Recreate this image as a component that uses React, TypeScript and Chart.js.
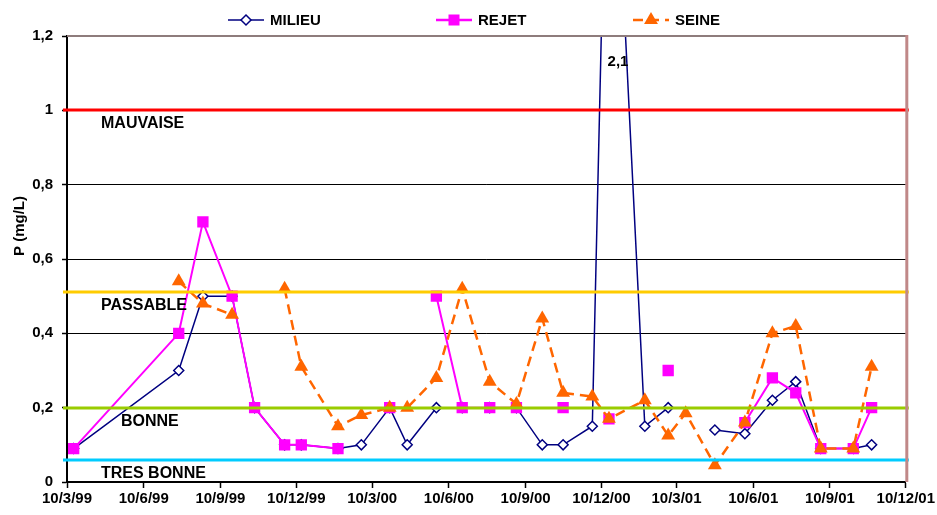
import { useEffect, useRef } from "react";
import { Chart, registerables } from "chart.js";

Chart.register(...registerables);

// ---------- DATA ----------
const BASE_DATE = "1999-03-10";
const END_DATE = "2001-12-10";

const sampleDates = [
  "1999-03-18", "1999-07-22", "1999-08-20", "1999-09-24", "1999-10-21",
  "1999-11-26", "1999-12-16", "2000-01-29", "2000-02-26", "2000-03-31",
  "2000-04-21", "2000-05-26", "2000-06-26", "2000-07-29", "2000-08-30",
  "2000-09-30", "2000-10-25", "2000-11-29", "2000-12-19", "2001-01-31",
  "2001-02-28", "2001-03-21", "2001-04-25", "2001-05-31", "2001-07-03",
  "2001-07-31", "2001-08-30", "2001-10-08", "2001-10-30",
];

const milieu = [
  0.09, 0.3, 0.5, 0.5, 0.2,
  0.1, 0.1, 0.09, 0.1, 0.2,
  0.1, 0.2, 0.2, 0.2, 0.2,
  0.1, 0.1, 0.15, 2.1, 0.15,
  0.2, null, 0.14, 0.13, 0.22,
  0.27, 0.09, 0.09, 0.1,
];

const rejet = [
  0.09, 0.4, 0.7, 0.5, 0.2,
  0.1, 0.1, 0.09, null, 0.2,
  null, 0.5, 0.2, 0.2, 0.2,
  null, 0.2, null, 0.17, null,
  0.3, null, null, 0.16, 0.28,
  0.24, 0.09, 0.09, 0.2,
];

const seine = [
  null, 0.54, 0.48, 0.45, null,
  0.52, 0.31, 0.15, 0.18, 0.2,
  0.2, 0.28, 0.52, 0.27, 0.21,
  0.44, 0.24, 0.23, 0.17, 0.22,
  0.125, 0.185, 0.045, 0.16, 0.4,
  0.42, 0.09, 0.09, 0.31,
];

const tickDates = [
  "1999-03-10", "1999-06-10", "1999-09-10", "1999-12-10",
  "2000-03-10", "2000-06-10", "2000-09-10", "2000-12-10",
  "2001-03-10", "2001-06-10", "2001-09-10", "2001-12-10",
];

const seriesNames = ["MILIEU", "REJET", "SEINE"];
const thresholdValues = [1, 0.51, 0.2, 0.06];
const thresholdNames = ["MAUVAISE", "PASSABLE", "BONNE", "TRES BONNE"];
const peakLabel = "2,1";
const yTitle = "P (mg/L)";

// ---------- STYLE ----------
const FONT = "'Liberation Sans', Arial, sans-serif";
const seriesColors = ["#000080", "#FF00FF", "#FF6600"];
const thresholdColors = ["#FF0000", "#FFCC00", "#99CC00", "#00CCFF"];
const thresholdLabelX = [101, 101, 121, 101];
const legendCenters = [246, 454, 651];

const dayOf = (iso: string) => {
  const [y, m, d] = iso.split("-").map(Number);
  const [by, bm, bd] = BASE_DATE.split("-").map(Number);
  return (Date.UTC(y, m - 1, d) - Date.UTC(by, bm - 1, bd)) / 86400000;
};
const tickDays = tickDates.map(dayOf);
const tickLabels = tickDates.map((s) => {
  const [y, m, d] = s.split("-").map(Number);
  return `${d}/${m}/${String(y).slice(2)}`;
});
const toPoints = (vals: (number | null)[]) =>
  sampleDates.map((s, i) => ({ x: dayOf(s), y: vals[i] }));

function drawMarker(ctx: CanvasRenderingContext2D, idx: number, x: number, y: number) {
  ctx.save();
  ctx.setLineDash([]);
  ctx.beginPath();
  if (idx === 0) {
    const r = 5;
    ctx.moveTo(x, y - r);
    ctx.lineTo(x + r, y);
    ctx.lineTo(x, y + r);
    ctx.lineTo(x - r, y);
    ctx.closePath();
    ctx.fillStyle = "#fff";
    ctx.fill();
    ctx.lineWidth = 1.5;
    ctx.strokeStyle = seriesColors[0];
    ctx.stroke();
  } else if (idx === 1) {
    ctx.fillStyle = seriesColors[1];
    ctx.fillRect(x - 5.5, y - 5.5, 11, 11);
  } else {
    const r = 8;
    ctx.moveTo(x, y - r);
    ctx.lineTo(x + r * 0.866, y + r * 0.5);
    ctx.lineTo(x - r * 0.866, y + r * 0.5);
    ctx.closePath();
    ctx.fillStyle = seriesColors[2];
    ctx.fill();
  }
  ctx.restore();
}

const overlayPlugin = {
  id: "overlay",
  afterDatasetsDraw(chart: any) {
    const { ctx, chartArea: a, scales } = chart;
    const ys = scales.y;
    ctx.save();
    thresholdValues.forEach((v, i) => {
      const py = Math.round(ys.getPixelForValue(v));
      ctx.beginPath();
      ctx.strokeStyle = thresholdColors[i];
      ctx.lineWidth = 3;
      ctx.moveTo(a.left - 4, py);
      ctx.lineTo(a.right + 3, py);
      ctx.stroke();
      ctx.fillStyle = "#000";
      ctx.font = `bold 16px ${FONT}`;
      ctx.textAlign = "left";
      ctx.textBaseline = "middle";
      ctx.fillText(thresholdNames[i], thresholdLabelX[i], py + 14);
    });
    ctx.restore();
  },
  afterDraw(chart: any) {
    const { ctx, chartArea: a, scales } = chart;
    ctx.save();
    // top & right borders
    ctx.strokeStyle = "#8E7C7C";
    ctx.lineWidth = 2;
    ctx.beginPath();
    ctx.moveTo(a.left, a.top);
    ctx.lineTo(a.right + 2, a.top);
    ctx.stroke();
    ctx.strokeStyle = "#C08888";
    ctx.lineWidth = 3;
    ctx.beginPath();
    ctx.moveTo(a.right + 1, a.top - 1);
    ctx.lineTo(a.right + 1, a.bottom);
    ctx.stroke();

    // peak label
    const peakIdx = milieu.indexOf(2.1);
    const px = scales.x.getPixelForValue(dayOf(sampleDates[peakIdx]));
    ctx.fillStyle = "#000";
    ctx.font = `bold 15px ${FONT}`;
    ctx.textAlign = "center";
    ctx.textBaseline = "middle";
    ctx.fillText(peakLabel, px + 9, a.top + 26);

    // y title
    ctx.save();
    ctx.translate(20, 226);
    ctx.rotate(-Math.PI / 2);
    ctx.font = `bold 15px ${FONT}`;
    ctx.textAlign = "center";
    ctx.textBaseline = "middle";
    ctx.fillText(yTitle, 0, 0);
    ctx.restore();

    // legend
    seriesNames.forEach((name, i) => {
      const cx = legendCenters[i];
      const ly = 20;
      ctx.beginPath();
      ctx.strokeStyle = seriesColors[i];
      ctx.lineWidth = i === 0 ? 1.5 : 2.5;
      ctx.setLineDash(i === 2 ? [10, 6] : []);
      ctx.moveTo(cx - 18, ly);
      ctx.lineTo(cx + 18, ly);
      ctx.stroke();
      ctx.setLineDash([]);
      drawMarker(ctx, i, cx, ly);
      ctx.fillStyle = "#000";
      ctx.font = `bold 15px ${FONT}`;
      ctx.textAlign = "left";
      ctx.textBaseline = "middle";
      ctx.fillText(name, cx + 24, ly + 1);
    });
    ctx.restore();
  },
};

export default function App() {
  const ref = useRef<HTMLCanvasElement | null>(null);
  useEffect(() => {
    if (!ref.current) return;
    const chart = new Chart(ref.current, {
      type: "line",
      data: {
        datasets: [
          {
            label: seriesNames[0],
            data: toPoints(milieu) as any,
            borderColor: seriesColors[0],
            borderWidth: 1.5,
            pointStyle: "rectRot",
            pointRadius: 5,
            pointBackgroundColor: "#fff",
            pointBorderColor: seriesColors[0],
            pointBorderWidth: 1.5,
            spanGaps: false,
            order: 2,
          },
          {
            label: seriesNames[1],
            data: toPoints(rejet) as any,
            borderColor: seriesColors[1],
            borderWidth: 2,
            pointStyle: "rect",
            pointRadius: 8,
            pointBackgroundColor: seriesColors[1],
            pointBorderColor: seriesColors[1],
            pointBorderWidth: 0,
            spanGaps: false,
            order: 1,
          },
          {
            label: seriesNames[2],
            data: toPoints(seine) as any,
            borderColor: seriesColors[2],
            borderWidth: 2.5,
            borderDash: [10, 6],
            pointStyle: "triangle",
            pointRadius: 8,
            pointBackgroundColor: seriesColors[2],
            pointBorderColor: seriesColors[2],
            pointBorderWidth: 0,
            spanGaps: false,
            order: 0,
          },
        ],
      },
      options: {
        responsive: false,
        animation: false,
        devicePixelRatio: 1,
        layout: { padding: { top: 36, right: 29, left: 0, bottom: 0 } },
        plugins: { legend: { display: false }, tooltip: { enabled: false } },
        scales: {
          x: {
            type: "linear",
            min: 0,
            max: dayOf(END_DATE),
            afterBuildTicks: (s: any) => {
              s.ticks = tickDays.map((v) => ({ value: v }));
            },
            afterFit: (s: any) => {
              s.height = 33;
            },
            ticks: {
              autoSkip: false,
              maxRotation: 0,
              padding: 2,
              color: "#000",
              font: { family: FONT, size: 15, weight: "bold" },
              callback: (v: any) => tickLabels[tickDays.indexOf(Number(v))] ?? "",
            },
            grid: { drawOnChartArea: false, drawTicks: true, tickLength: 6, tickColor: "#000", tickWidth: 1.5 },
            border: { display: true, color: "#000", width: 2 },
          },
          y: {
            min: 0,
            max: 1.2,
            afterFit: (s: any) => {
              s.width = 67;
            },
            ticks: {
              stepSize: 0.2,
              padding: 9,
              color: "#000",
              font: { family: FONT, size: 15, weight: "bold" },
              callback: (v: any) => String(Math.round(Number(v) * 10) / 10).replace(".", ","),
            },
            grid: {
              color: (c: any) => (c.tick && c.tick.value > 1.19 ? "rgba(0,0,0,0)" : "#000"),
              lineWidth: 1,
              tickLength: 5,
              tickColor: "#000",
              tickWidth: 1.5,
            },
            border: { display: true, color: "#000", width: 2 },
          },
        },
      },
      plugins: [overlayPlugin],
    });
    return () => chart.destroy();
  }, []);
  return (
    <div style={{ position: "absolute", left: 0, top: 0, width: 937, height: 515, background: "#fff" }}>
      <canvas ref={ref} width={937} height={515} style={{ display: "block" }} />
    </div>
  );
}
